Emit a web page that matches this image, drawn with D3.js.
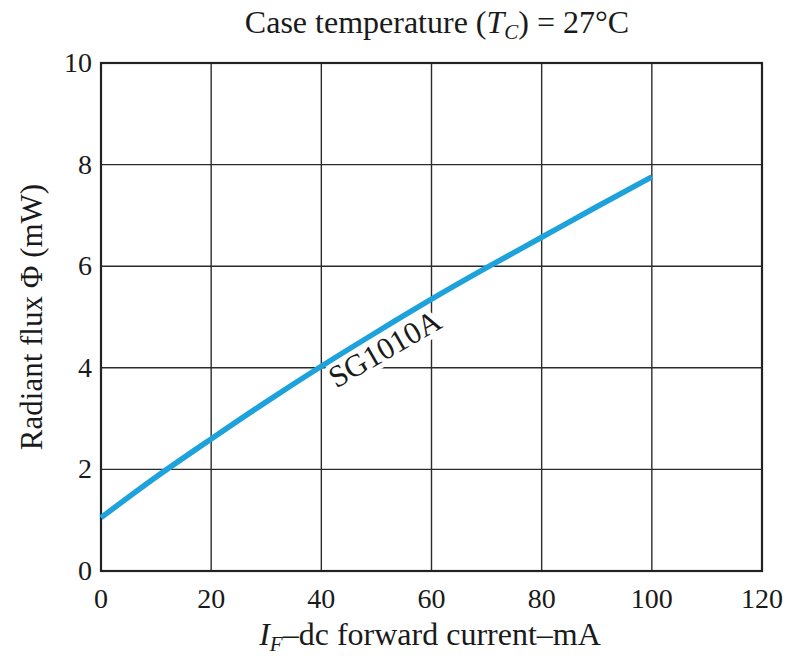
<!DOCTYPE html>
<html>
<head>
<meta charset="utf-8">
<script src="https://cdn.jsdelivr.net/npm/d3@7"></script>
<style>
  body { margin: 0; background: #fff; }
  text { font-family: "Liberation Serif", "Times New Roman", serif; fill: #1a1a1a; }
</style>
</head>
<body>
<script>
// forward current (mA) vs radiant flux (mW)
const current = [0, 10, 20, 30, 40, 50, 60, 70, 80, 90, 100]
const flux = [1.05, 1.85, 2.6, 3.33, 4.03, 4.7, 5.35, 5.97, 6.57, 7.17, 7.76]
const xTicks = [0, 20, 40, 60, 80, 100, 120]
const yTicks = [0, 2, 4, 6, 8, 10]

const width = 791, height = 662
const margin = { top: 63, right: 29, bottom: 91, left: 101 }

const svg = d3.select("body").append("svg")
  .attr("width", width)
  .attr("height", height)

const x = d3.scaleLinear().domain([0, 120]).range([margin.left, width - margin.right])
const y = d3.scaleLinear().domain([0, 10]).range([height - margin.bottom, margin.top])

// grid
const grid = svg.append("g").attr("id", "grid")
grid.selectAll(".vgrid")
  .data(xTicks)
  .enter().append("line")
    .attr("x1", d => x(d)).attr("x2", d => x(d))
    .attr("y1", y(0)).attr("y2", y(10))
    .attr("stroke", "#2b2b2b")
    .attr("stroke-width", 1.4)
grid.selectAll(".hgrid")
  .data(yTicks)
  .enter().append("line")
    .attr("x1", x(0)).attr("x2", x(120))
    .attr("y1", d => y(d)).attr("y2", d => y(d))
    .attr("stroke", "#2b2b2b")
    .attr("stroke-width", 1.4)

// frame
svg.append("rect")
  .attr("x", x(0)).attr("y", y(10))
  .attr("width", x(120) - x(0)).attr("height", y(0) - y(10))
  .attr("fill", "none")
  .attr("stroke", "#222")
  .attr("stroke-width", 2.2)

// curve label with white halo breaking the grid (drawn under the curve)
svg.append("text")
  .attr("transform", `translate(${x(51.8)},${y(4.32)}) rotate(-30)`)
  .attr("text-anchor", "middle")
  .attr("dominant-baseline", "middle")
  .style("font-size", "31px")
  .style("stroke", "#fff")
  .style("stroke-width", 10)
  .style("paint-order", "stroke")
  .text("SG1010A")

// curve
const line = d3.line()
  .x((d, i) => x(current[i]))
  .y(d => y(d))
  .curve(d3.curveMonotoneX)

svg.append("path")
  .datum(flux)
  .attr("fill", "none")
  .attr("stroke", "#1ea2dc")
  .attr("stroke-width", 5.5)
  .attr("stroke-linecap", "butt")
  .attr("d", line)

// tick labels
svg.append("g").selectAll("text")
  .data(xTicks)
  .enter().append("text")
    .attr("x", d => x(d))
    .attr("y", y(0) + 37)
    .attr("text-anchor", "middle")
    .style("font-size", "28px")
    .text(d => d)

svg.append("g").selectAll("text")
  .data(yTicks)
  .enter().append("text")
    .attr("x", x(0) - 9)
    .attr("y", d => y(d) + 9)
    .attr("text-anchor", "end")
    .style("font-size", "28px")
    .text(d => d)

// title
const title = svg.append("text")
  .attr("x", 437)
  .attr("y", 33)
  .attr("text-anchor", "middle")
  .style("font-size", "32px")
title.append("tspan").text("Case temperature (")
title.append("tspan").style("font-style", "italic").text("T")
title.append("tspan").style("font-style", "italic").style("font-size", "21px").attr("dy", 6).text("C")
title.append("tspan").attr("dy", -6).text(") = 27°C")

// x axis label
const xl = svg.append("text")
  .attr("x", 430)
  .attr("y", 645)
  .attr("text-anchor", "middle")
  .style("font-size", "32px")
xl.append("tspan").style("font-style", "italic").text("I")
xl.append("tspan").style("font-style", "italic").style("font-size", "21px").attr("dy", 6).text("F")
xl.append("tspan").attr("dy", -6).text("\u2013dc forward current\u2013mA")

// y axis label
svg.append("text")
  .attr("transform", `translate(42,${(y(0) + y(10)) / 2}) rotate(-90)`)
  .attr("text-anchor", "middle")
  .style("font-size", "31px")
  .text("Radiant flux \u03A6 (mW)")
</script>
</body>
</html>
